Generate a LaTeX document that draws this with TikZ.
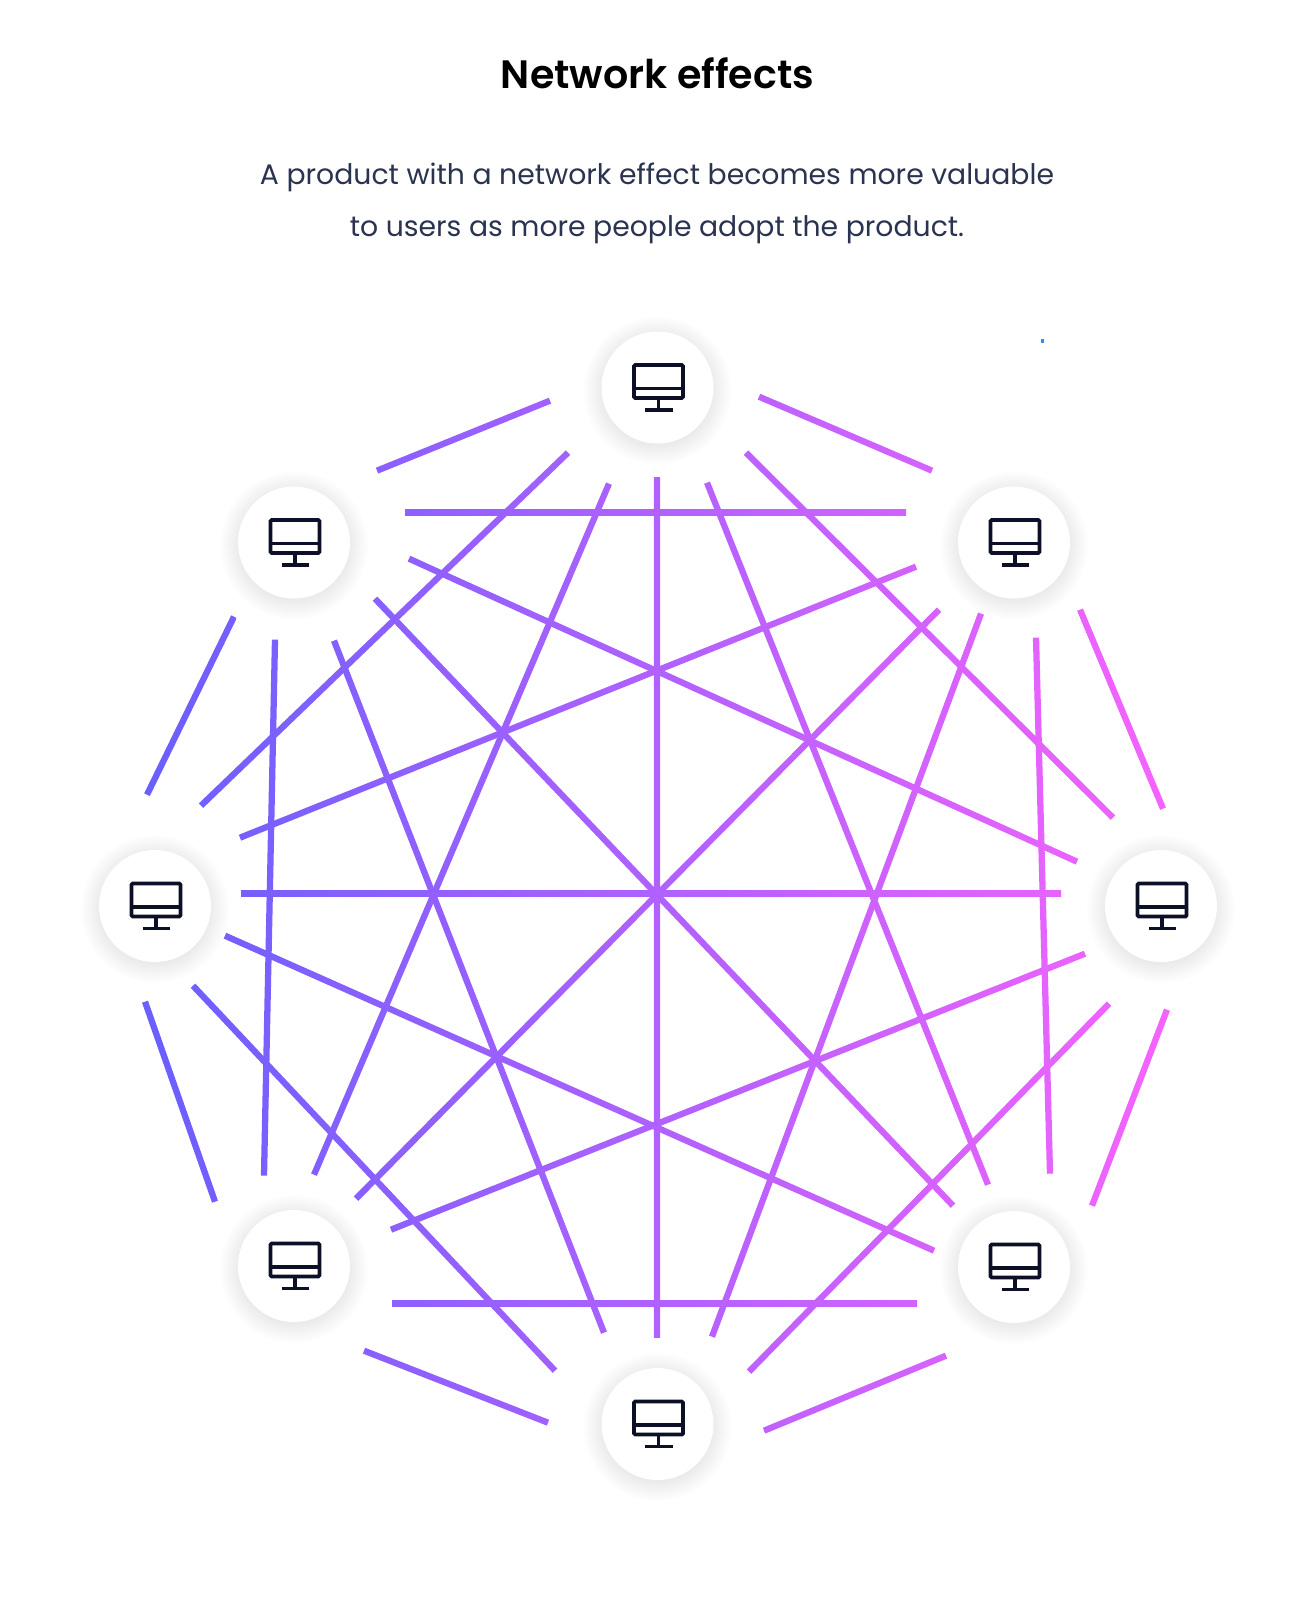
\documentclass[tikz,border=0pt]{standalone}
\usepackage{fontspec}
\usetikzlibrary{calc}
\setmainfont{Poppins}
\newfontfamily\titlefont{Poppins}[UprightFont=* SemiBold]
\newfontfamily\bodyfont{Poppins}
\definecolor{gradL}{HTML}{6A5FFF}
\definecolor{gradR}{HTML}{F663FF}
\definecolor{iconink}{HTML}{0B1026}
\definecolor{bodyink}{HTML}{2A3350}
\definecolor{specdot}{HTML}{2A8CFF}
\newdimen\endax
\newdimen\endbx
% one connector: a thin band between two named ends, its colour following the picture-wide x gradient
\newcommand{\conn}[2]{%
  \pgfextractx\endax{\pgfpointanchor{#1}{center}}%
  \pgfextractx\endbx{\pgfpointanchor{#2}{center}}%
  \pgfmathsetmacro\fl{max(0,min(100,(min(\endax,\endbx)/0.75pt-145)/(1170-145)*100))}%
  \pgfmathsetmacro\fh{max(0,min(100,(max(\endax,\endbx)/0.75pt-145)/(1170-145)*100))}%
  \shade[left color=gradR!\fl!gradL,right color=gradR!\fh!gradL]
    ($(#1)!2.35pt!90:(#2)$) -- ($(#2)!2.35pt!-90:(#1)$) -- ($(#2)!2.35pt!90:(#1)$) -- ($(#1)!2.35pt!-90:(#2)$) -- cycle;
}
\tikzset{
  x=0.75pt,y=-0.75pt,
  hub/.style={circle,fill=white,draw=none,minimum size=84pt,inner sep=0pt},
  screenline/.style={draw=iconink,line width=2.7pt,rounded corners=0.8pt},
  monitor/.pic={
    \draw[screenline] (-23.5,-22.5) rectangle (25.5,10.5);
    \draw[screenline] (-23.5,1) -- (25.5,1);
    \draw[screenline] (1,10.5) -- (1,22.5);
    \draw[screenline] (-12.5,22.5) -- (15,22.5);
  },
}
\newcommand{\hubat}[3]{%
  \foreach \rr in {74,72,...,56}{\fill[black,opacity=0.006] (#1,#2+3) circle[radius=\rr];}
  \node[hub] (#3) at (#1,#2) {};
  \pic at (#3) {monitor};
}
\begin{document}
\begin{tikzpicture}
\useasboundingbox (0,0) rectangle (1315,1600);
\fill[white] (0,0) rectangle (1315,1600);

\node[font=\titlefont\fontsize{29.7}{36}\selectfont,text=black,inner sep=0pt,anchor=center] (title) at (657.5,73) {Network effects};
\node[font=\bodyfont\fontsize{21.2}{26}\selectfont,text=bodyink,inner sep=0pt,anchor=center] (line1) at (657,177.5) {A product with a network effect becomes more valuable};
\node[font=\bodyfont\fontsize{21.2}{26}\selectfont,text=bodyink,inner sep=0pt,anchor=center] (line2) at (657,230) {to users as more people adopt the product.};

\fill[specdot] (1040.5,339) rectangle (1044,342.5);

\begin{scope}[yshift=-0.5pt]
\coordinate (a1) at (759,396);   \coordinate (b1) at (932,470);
\coordinate (a2) at (1080,609);  \coordinate (b2) at (1163,808);
\coordinate (a3) at (1167,1009); \coordinate (b3) at (1092,1205);
\coordinate (a4) at (946,1355);  \coordinate (b4) at (764,1430);
\coordinate (a5) at (548,1422);  \coordinate (b5) at (364,1350);
\coordinate (a6) at (215,1201);  \coordinate (b6) at (145,1001);
\coordinate (a7) at (147,794);   \coordinate (b7) at (234,616);
\coordinate (a8) at (377,470);   \coordinate (b8) at (550,400);
\coordinate (a9) at (746,452);   \coordinate (b9) at (1113,817);
\coordinate (a10) at (1036,637); \coordinate (b10) at (1050,1173);
\coordinate (a11) at (1109,1003);\coordinate (b11) at (749,1371);
\coordinate (a12) at (917,1303); \coordinate (b12) at (392,1303);
\coordinate (a13) at (555,1370); \coordinate (b13) at (193,985);
\coordinate (a14) at (264,1175); \coordinate (b14) at (275,639);
\coordinate (a15) at (201,805);  \coordinate (b15) at (568,452);
\coordinate (a16) at (405,512);  \coordinate (b16) at (906,512);
\coordinate (a17) at (707,482);  \coordinate (b17) at (988,1184);
\coordinate (a18) at (981,613);  \coordinate (b18) at (712,1336);
\coordinate (a19) at (1085,953); \coordinate (b19) at (391,1229);
\coordinate (a20) at (934,1250); \coordinate (b20) at (225,935);
\coordinate (a21) at (604,1332); \coordinate (b21) at (334,640);
\coordinate (a22) at (314,1174); \coordinate (b22) at (609,483);
\coordinate (a23) at (240,837);  \coordinate (b23) at (916,566);
\coordinate (a24) at (409,558);  \coordinate (b24) at (1077,861);
\coordinate (a25) at (657,477);  \coordinate (b25) at (657,1336.5);
\coordinate (a26) at (939,609);  \coordinate (b26) at (356,1198);
\coordinate (a27) at (1061,893); \coordinate (b27) at (241,893);
\coordinate (a28) at (953,1205); \coordinate (b28) at (375,598);
\end{scope}

\foreach \n in {1,...,28}{\conn{a\n}{b\n}}

\hubat{657.5}{387.5}{top}
\hubat{1014}{542.5}{topright}
\hubat{1161}{906}{right}
\hubat{1014}{1267}{bottomright}
\hubat{657.5}{1424}{bottom}
\hubat{294}{1266}{bottomleft}
\hubat{155}{906}{left}
\hubat{294}{542.5}{topleft}
\end{tikzpicture}
\end{document}
